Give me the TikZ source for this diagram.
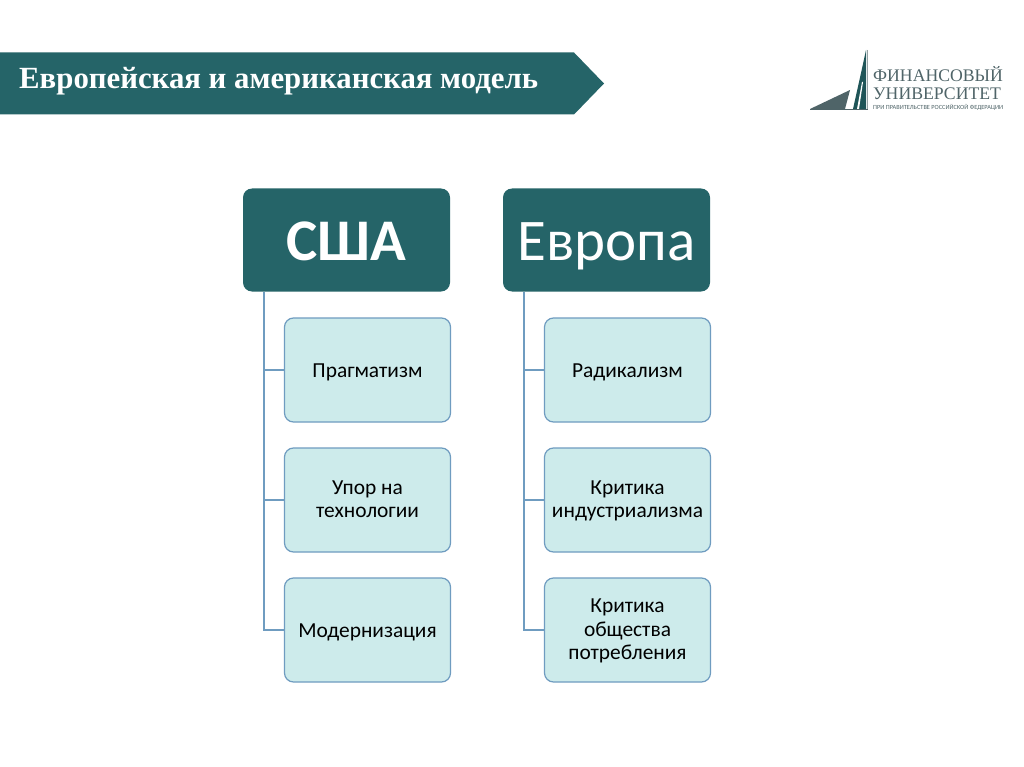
\documentclass[tikz,border=0pt]{standalone}
\usepackage{fontspec}
\setmainfont{Carlito}
\newfontfamily\titlefont{Liberation Serif}
\definecolor{teal}{HTML}{256468}
\definecolor{lightbox}{HTML}{CDEBEB}
\definecolor{linkblue}{HTML}{6F9CC0}
\definecolor{logogrey}{HTML}{4F6468}
\newcommand{\linesdown}[1]{\raisebox{-1.5pt}[\height][\depth]{\begin{tabular}{@{}c@{}}#1\end{tabular}}}
\tikzset{
  headbox/.style={fill=teal,draw=none,rounded corners=9pt,minimum width=207pt,minimum height=103pt,inner sep=0pt,text=white,text height=44pt,text depth=4pt,font=\fontsize{59}{62}\selectfont},
  itembox/.style={fill=lightbox,draw=linkblue,line width=1.2pt,rounded corners=9pt,minimum width=166pt,minimum height=104pt,inner sep=2pt,text=black,font=\fontsize{21.4}{23.5}\selectfont},
  singlebox/.style={itembox,execute at begin node={\rule{0pt}{20pt}},execute at end node={\rule[-5pt]{0pt}{5pt}}},
  link/.style={draw=linkblue,line width=1.5pt},
}
\begin{document}
\begin{tikzpicture}[x=1pt,y=-1pt]
\useasboundingbox (0,0) rectangle (1024,767);
\fill[white] (0,0) rectangle (1024,767);
% title banner
\fill[teal] (0,52.5) -- (574,52.5) -- (604,83.5) -- (574,114.5) -- (0,114.5) -- cycle;
\node[anchor=base west,inner sep=0pt,text=white] (title) at (19,89) {\titlefont\bfseries\fontsize{30.8}{34}\selectfont Европейская и американская модель};
% logo
\fill[logogrey] (810,109) -- (850,90) -- (845,109) -- cycle;
\fill[teal!85!black] (853,109) -- (861,73) -- (866,50) -- (866,109) -- cycle;
\fill[white] (857,109) -- (862,82) -- (863,82) -- (859,109) -- cycle;
\draw[logogrey!60,line width=.6pt] (867,50) -- (867,109);
\draw[logogrey,line width=.6pt] (810,109) -- (868,109);
\node[anchor=base west,inner sep=0pt,text=logogrey] (logoa) at (873,82) {\titlefont\fontsize{17.7}{18}\selectfont ФИНАНСОВЫЙ};
\node[anchor=base west,inner sep=0pt,text=logogrey] (logob) at (873,99.5) {\titlefont\fontsize{17.7}{18}\selectfont УНИВЕРСИТЕТ};
\node[anchor=base west,inner sep=0pt,text=logogrey] (logoc) at (873,109.5) {\fontsize{6.3}{7}\selectfont ПРИ ПРАВИТЕЛЬСТВЕ РОССИЙСКОЙ ФЕДЕРАЦИИ};
% USA column
\node[headbox] (usa) at (346.5,240) {\bfseries США};
\node[singlebox] (u1) at (367.5,370) {Прагматизм};
\node[itembox] (u2) at (367.5,500) {\linesdown{Упор на\\технологии}};
\node[singlebox] (u3) at (367.5,630) {Модернизация};
% Europe column
\node[headbox] (eu) at (606.5,240) {Европа};
\node[singlebox] (e1) at (627.5,370) {Радикализм};
\node[itembox] (e2) at (627.5,500) {\linesdown{Критика\\индустриализма}};
\node[itembox] (e3) at (627.5,630) {\linesdown{Критика\\общества\\потребления}};
% connectors
\coordinate (ua) at (264,0);
\coordinate (ea) at (524,0);
\draw[link] (usa.south -| ua) -- (u3.west -| ua) -- (u3.west);
\draw[link] (u1.west -| ua) -- (u1.west);
\draw[link] (u2.west -| ua) -- (u2.west);
\draw[link] (eu.south -| ea) -- (e3.west -| ea) -- (e3.west);
\draw[link] (e1.west -| ea) -- (e1.west);
\draw[link] (e2.west -| ea) -- (e2.west);
\end{tikzpicture}
\end{document}
